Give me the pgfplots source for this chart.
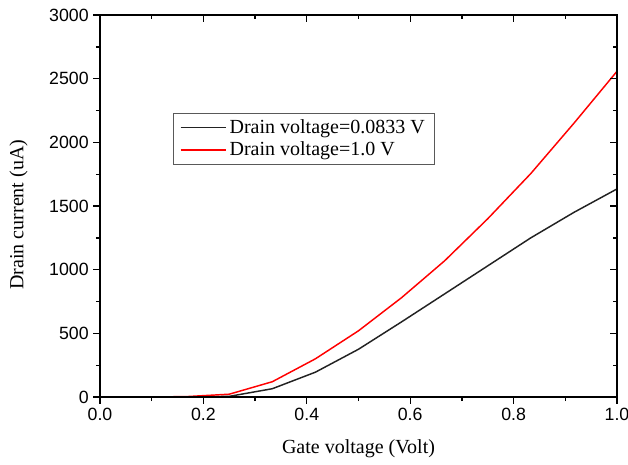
\documentclass[border=0pt]{standalone}
\usepackage{fontspec}
\setmainfont{Liberation Serif}
\newfontfamily\ticksans{Liberation Sans}
\usepackage{pgfplots}
\pgfplotsset{compat=1.18}
\pgfplotstableread{
x        red    black
0.0000   0      0
0.0833   0      0
0.1667   3      0
0.2500   22     5
0.3333   120    65
0.4167   300    195
0.5000   520    375
0.5833   780    590
0.6667   1070   810
0.7500   1400   1030
0.8333   1755   1250
0.9167   2150   1450
1.0000   2558   1634
}\datatable
\definecolor{darkline}{HTML}{222222}
\begin{document}
\begin{tikzpicture}
\begin{axis}[
  scale only axis,
  width=387.75pt, height=286.5pt,
  xmin=0, xmax=1, ymin=0, ymax=3000,
  xtick={0,0.2,...,1.0},
  ytick={0,500,...,3000},
  minor x tick num=1, minor y tick num=1,
  xtick pos=bottom, ytick pos=left,
  tick align=outside,
  major tick length=5pt, minor tick length=3pt,
  every tick/.style={black, line width=1pt},
  axis line style={line width=1.4pt},
  /pgf/number format/assume math mode=true,
  ticklabel style={font=\ticksans\fontsize{13.3}{15}\selectfont},
  xticklabel style={/pgf/number format/.cd, fixed, fixed zerofill, precision=1},
  yticklabel style={/pgf/number format/1000 sep={}},
  scaled y ticks=false,
  xlabel={Gate voltage (Volt)},
  ylabel={Drain current (uA)},
  label style={font=\fontsize{15}{17}\selectfont},
  xlabel style={at={(axis description cs:0.5,0)}, anchor=center, yshift=-38.5pt},
  ylabel style={at={(axis description cs:0,0.5)}, anchor=center, yshift=61pt, xshift=-6.5pt},
  legend style={at={(rel axis cs:0.141,0.743)}, anchor=north west,
    draw=gray!70!black, line width=0.6pt,
    font=\fontsize{15}{17}\selectfont, row sep=1pt,
    inner xsep=5pt, inner ysep=2.5pt},
  legend cell align=left,
  legend image code/.code={\draw[#1] (0cm,0cm) -- (1.2cm,0cm);},
]
\addplot[darkline, line width=1.1pt] table[x=x, y=black] {\datatable};
\addlegendentry{Drain voltage=0.0833 V}
\addplot[red, line width=1.1pt] table[x=x, y=red] {\datatable};
\addlegendentry{Drain voltage=1.0 V}
\coordinate (sw) at (rel axis cs:0,0);
\coordinate (ne) at (rel axis cs:1,1);
\end{axis}
\begin{axis}[
  scale only axis,
  width=387.75pt, height=286.5pt,
  xmin=0, xmax=1, ymin=0, ymax=3000,
  xtick={0,0.2,...,1.0},
  ytick={0,500,...,3000},
  minor x tick num=1, minor y tick num=1,
  xtick pos=top, ytick pos=right,
  tick align=inside,
  major tick length=5pt, minor tick length=3pt,
  every tick/.style={black, line width=1pt},
  axis line style={line width=1.4pt},
  xticklabels={}, yticklabels={},
]
\end{axis}
\pgfresetboundingbox
\path[use as bounding box] ([xshift=-75pt, yshift=-50.25pt]sw) rectangle ([xshift=8.25pt, yshift=11.25pt]ne);
\end{tikzpicture}
\end{document}
